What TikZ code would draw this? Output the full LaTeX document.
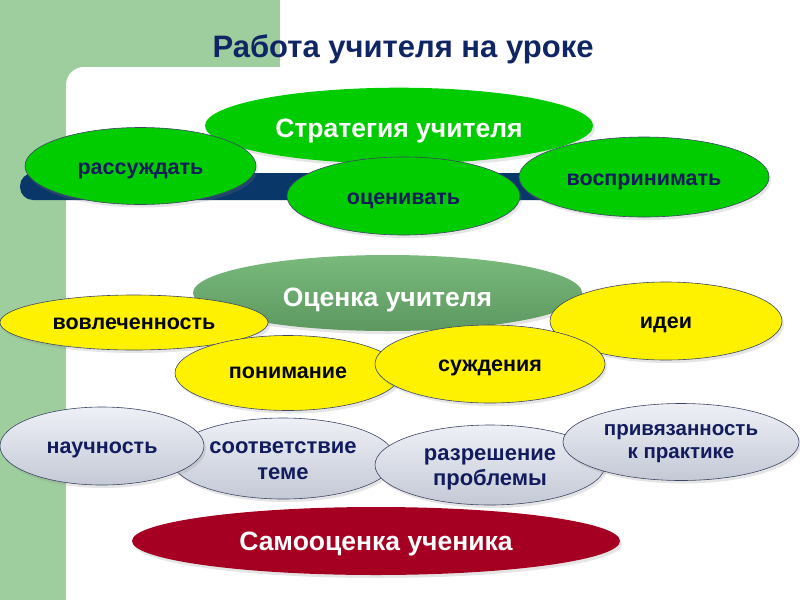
\documentclass[tikz,border=0pt]{standalone}
\usepackage{fontspec}
\setmainfont{Liberation Sans}
\usetikzlibrary{shapes.geometric,shadows}
\definecolor{bggreen}{RGB}{158,206,158}
\definecolor{navy}{RGB}{18,28,92}
\definecolor{titlenavy}{RGB}{16,38,100}
\definecolor{barblue}{RGB}{10,55,105}
\definecolor{brightgreen}{RGB}{0,204,0}
\definecolor{midgreen}{RGB}{122,186,124}
\definecolor{darkgreen}{RGB}{92,152,96}
\definecolor{darkred}{RGB}{165,0,33}
\definecolor{outline}{RGB}{60,70,100}
\definecolor{graytop}{RGB}{238,240,246}
\definecolor{graybot}{RGB}{196,201,214}
\newcommand{\twolines}[2]{\begin{tabular}[b]{@{}c@{}}#1\\#2\end{tabular}}
\tikzset{
  el/.style={ellipse, inner sep=0pt, font=\bfseries\fontsize{21.5}{26}\selectfont,
    drop shadow={opacity=0.2, shadow xshift=2pt, shadow yshift=-3pt}},
  th/.style={text height=#1, text depth=0pt},
  greenel/.style={el, fill=brightgreen, draw=outline, line width=0.6pt, text=navy},
  yellowel/.style={el, fill=yellow, draw=outline, line width=0.6pt, text=black!80!navy},
  grayel/.style={el, top color=graytop, bottom color=graybot, draw=outline, line width=0.6pt, text=navy},
  bigel/.style={el, text=white, font=\bfseries\fontsize{26.5}{30}\selectfont},
}
\begin{document}
\begin{tikzpicture}[x=1pt,y=-1pt]
\useasboundingbox (0,0) rectangle (800,600);
\fill[white] (0,0) rectangle (800,600);
\fill[bggreen] (0,0) rectangle (280,600);
\fill[white, rounded corners=18pt] (66,67) rectangle (830,640);
\node[text=titlenavy, font=\bfseries\fontsize{31}{36}\selectfont, anchor=base] (title) at (403,57) {Работа учителя на уроке};
% top group
\fill[barblue, rounded corners=13pt] (20,173) rectangle (560,200);
\node[bigel, fill=brightgreen, minimum width=388, minimum height=76, th=22.6pt] (strat) at (399,125.7) {Стратегия учителя};
\node[greenel, minimum width=231, minimum height=77, th=16pt] (rass) at (140.5,166) {рассуждать};
\node[greenel, minimum width=233, minimum height=78, th=16pt] (ocen) at (403.5,196) {оценивать};
\node[greenel, minimum width=250, minimum height=80, th=16pt] (vosp) at (644,177) {воспринимать};
% middle group
\node[bigel, top color=midgreen, bottom color=darkgreen, minimum width=389, minimum height=76, th=26pt] (ocu) at (387.5,293) {Оценка учителя};
\node[yellowel, minimum width=268, minimum height=55, th=13.6pt] (vovl) at (134,322.5) {вовлеченность};
\node[yellowel, minimum width=226, minimum height=75, th=11pt] (pon) at (288,373) {понимание};
\node[yellowel, minimum width=232, minimum height=78, th=14.6pt] (idei) at (666,321) {идеи};
\node[yellowel, minimum width=230, minimum height=78, th=15.4pt] (sugd) at (490,364) {суждения};
% bottom group
\node[grayel, minimum width=224, minimum height=81, th=41.6pt, font=\bfseries\fontsize{22}{26}\selectfont] (sootv) at (283,458.5) {\twolines{соответствие}{теме}};
\node[grayel, minimum width=204, minimum height=78, th=14.6pt] (nauch) at (102,446) {научность};
\node[grayel, minimum width=230, minimum height=80, th=40pt, font=\bfseries\fontsize{22}{25}\selectfont] (razr) at (490,465) {\twolines{разрешение}{проблемы}};
\node[grayel, minimum width=236, minimum height=77, th=32.6pt, font=\bfseries\fontsize{20.5}{23.3}\selectfont] (priv) at (681,442) {\twolines{привязанность}{к практике}};
\node[bigel, fill=darkred, minimum width=488, minimum height=68, th=18pt] (samo) at (376,541) {Самооценка ученика};
\end{tikzpicture}
\end{document}
